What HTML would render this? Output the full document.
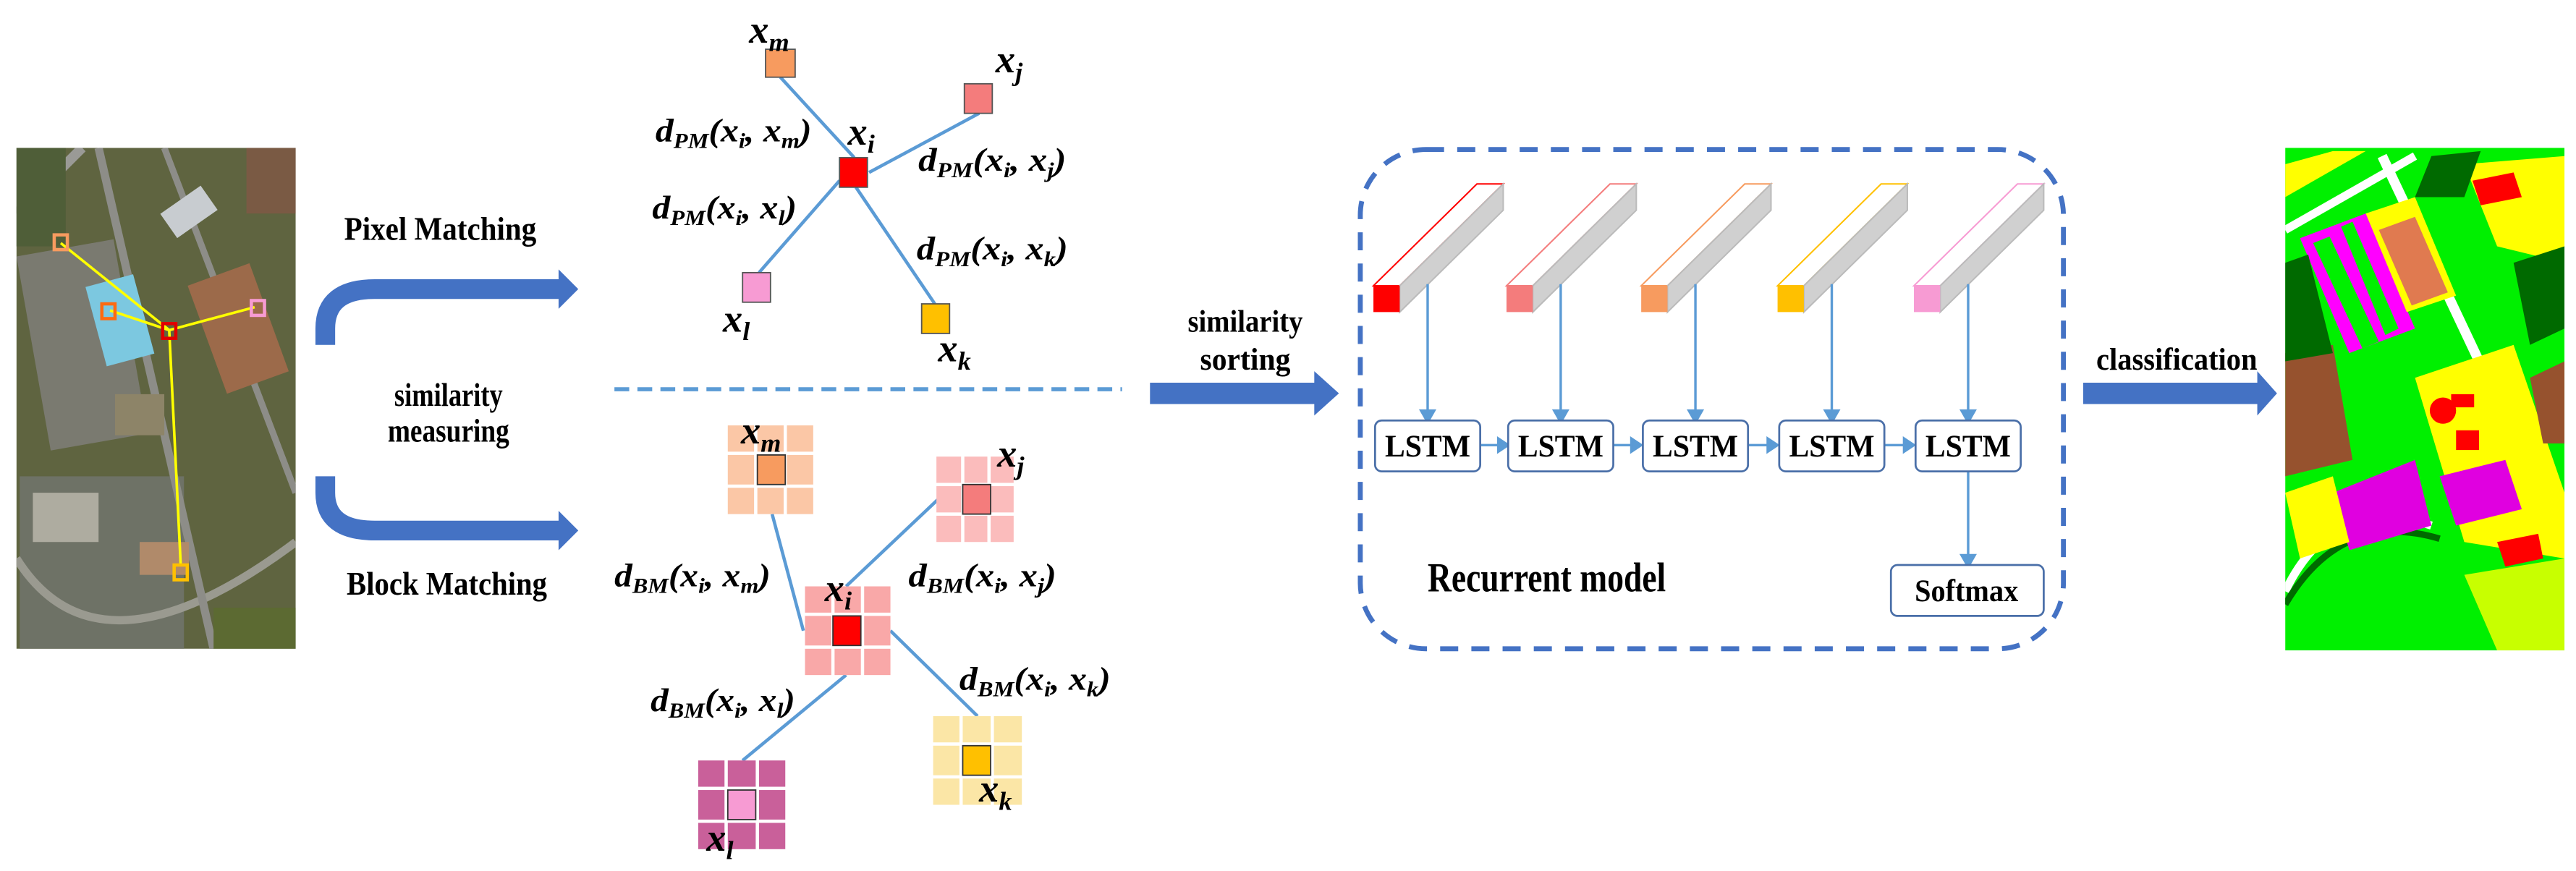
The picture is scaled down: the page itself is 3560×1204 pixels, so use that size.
<!DOCTYPE html>
<html><head><meta charset="utf-8"><style>
html,body{margin:0;padding:0;background:#fff;width:3560px;height:1204px;overflow:hidden}
svg{display:block}
.t{font-family:"Liberation Serif",serif;font-weight:bold;fill:#000}
.m{font-family:"Liberation Serif",serif;font-weight:bold;font-style:italic;fill:#000}
</style></head><body>
<svg width="3560" height="1204" viewBox="0 0 1568 530.3" preserveAspectRatio="none" xmlns="http://www.w3.org/2000/svg">
<defs>
<clipPath id="cs"><rect x="10" y="90" width="170" height="305"/></clipPath>
<clipPath id="cc"><rect x="1391" y="90" width="170" height="306"/></clipPath>
</defs>

<!-- satellite image -->
<g clip-path="url(#cs)">
<rect x="10" y="90" width="170" height="305" fill="#5f6440"/>
<rect x="20" y="150" width="60" height="120" fill="#7a7a70" transform="rotate(-10 50 210)"/>
<rect x="12" y="290" width="100" height="105" fill="#6e7266"/>
<path d="M10 340 Q60 420 180 330" stroke="#9a9a90" stroke-width="5" fill="none"/>
<path d="M60 90 L130 395" stroke="#8d8d88" stroke-width="5" fill="none"/>
<path d="M100 90 L180 300" stroke="#8d8d88" stroke-width="4" fill="none"/>
<path d="M10 130 L50 90" stroke="#9a9a96" stroke-width="6" fill="none"/>
<rect x="58" y="170" width="30" height="50" fill="#7cc8e0" transform="rotate(-15 73 195)"/>
<rect x="100" y="120" width="30" height="18" fill="#c8ccd0" transform="rotate(-35 115 129)"/>
<rect x="125" y="165" width="40" height="70" fill="#9c6a4a" transform="rotate(-20 145 200)"/>
<rect x="20" y="300" width="40" height="30" fill="#aeaca0"/>
<rect x="70" y="240" width="30" height="25" fill="#8d8468"/>
<rect x="85" y="330" width="30" height="20" fill="#b08a6a"/>
<rect x="130" y="370" width="50" height="25" fill="#5c6a32"/>
<rect x="10" y="90" width="30" height="60" fill="#4f5e38"/>
<rect x="150" y="90" width="30" height="40" fill="#7a5a44"/>
</g>
<g stroke="#ffff00" stroke-width="1.6" fill="none">
<line x1="103" y1="201" x2="37" y2="148"/><line x1="103" y1="201" x2="67" y2="189"/>
<line x1="103" y1="201" x2="155" y2="187"/><line x1="103" y1="201" x2="110" y2="344"/>
</g>
<rect x="33" y="143" width="8" height="9" fill="none" stroke="#f79b5f" stroke-width="2"/>
<rect x="62" y="185" width="8" height="9" fill="none" stroke="#ff6a10" stroke-width="2"/>
<rect x="99" y="197" width="8" height="9" fill="none" stroke="#e00000" stroke-width="2"/>
<rect x="153" y="183" width="8" height="9" fill="none" stroke="#f79bd3" stroke-width="2"/>
<rect x="106" y="344" width="8" height="9" fill="none" stroke="#ffc000" stroke-width="2"/>

<!-- curved arrows -->
<path d="M198 210 L198 200 Q198 176 228 176 L342 176" stroke="#4472c4" stroke-width="12" fill="none"/>
<polygon points="340,164 352,176 340,188" fill="#4472c4"/>
<path d="M198 290 L198 300 Q198 323 228 323 L342 323" stroke="#4472c4" stroke-width="12" fill="none"/>
<polygon points="340,311 352,323 340,335" fill="#4472c4"/>
<text class="t" x="268" y="146" font-size="20" text-anchor="middle" textLength="117" lengthAdjust="spacingAndGlyphs">Pixel Matching</text>
<text class="t" x="273" y="247" font-size="20" text-anchor="middle" textLength="66" lengthAdjust="spacingAndGlyphs">similarity</text>
<text class="t" x="273" y="269" font-size="20" text-anchor="middle" textLength="74" lengthAdjust="spacingAndGlyphs">measuring</text>
<text class="t" x="272" y="362" font-size="20" text-anchor="middle" textLength="122" lengthAdjust="spacingAndGlyphs">Block Matching</text>

<!-- pixel graph -->
<g stroke="#5b9bd5" stroke-width="2">
<line x1="475" y1="47" x2="520" y2="96"/><line x1="596" y1="69" x2="529" y2="105"/>
<line x1="511" y1="110" x2="462" y2="166"/><line x1="521" y1="114" x2="569" y2="185"/>
</g>
<rect x="466" y="30" width="18" height="17" fill="#f79b5f" stroke="#555" stroke-width="0.8"/>
<rect x="511" y="96" width="17" height="18" fill="#ff0000" stroke="#555" stroke-width="0.8"/>
<rect x="587" y="51" width="17" height="18" fill="#f47c7c" stroke="#555" stroke-width="0.8"/>
<rect x="452" y="166" width="17" height="18" fill="#f79bd3" stroke="#555" stroke-width="0.8"/>
<rect x="561" y="185" width="17" height="18" fill="#ffc000" stroke="#555" stroke-width="0.8"/>
<g class="m" font-size="24">
<text x="456" y="26">x<tspan font-size="16" dy="5">m</tspan></text>
<text x="606" y="44">x<tspan font-size="16" dy="5">j</tspan></text>
<text x="516" y="88">x<tspan font-size="16" dy="5">i</tspan></text>
<text x="440" y="202">x<tspan font-size="16" dy="5">l</tspan></text>
<text x="571" y="220">x<tspan font-size="16" dy="5">k</tspan></text>
</g>
<g class="m" font-size="20">
<text x="399" y="86" textLength="95" lengthAdjust="spacingAndGlyphs">d<tspan font-size="13" dy="4">PM</tspan><tspan dy="-4">(x</tspan><tspan font-size="13" dy="4">i</tspan><tspan dy="-4">, x</tspan><tspan font-size="13" dy="4">m</tspan><tspan dy="-4">)</tspan></text>
<text x="559" y="104" textLength="90" lengthAdjust="spacingAndGlyphs">d<tspan font-size="13" dy="4">PM</tspan><tspan dy="-4">(x</tspan><tspan font-size="13" dy="4">i</tspan><tspan dy="-4">, x</tspan><tspan font-size="13" dy="4">j</tspan><tspan dy="-4">)</tspan></text>
<text x="397" y="133" textLength="88" lengthAdjust="spacingAndGlyphs">d<tspan font-size="13" dy="4">PM</tspan><tspan dy="-4">(x</tspan><tspan font-size="13" dy="4">i</tspan><tspan dy="-4">, x</tspan><tspan font-size="13" dy="4">l</tspan><tspan dy="-4">)</tspan></text>
<text x="558" y="158" textLength="92" lengthAdjust="spacingAndGlyphs">d<tspan font-size="13" dy="4">PM</tspan><tspan dy="-4">(x</tspan><tspan font-size="13" dy="4">i</tspan><tspan dy="-4">, x</tspan><tspan font-size="13" dy="4">k</tspan><tspan dy="-4">)</tspan></text>
<text x="374" y="357" textLength="95" lengthAdjust="spacingAndGlyphs">d<tspan font-size="13" dy="4">BM</tspan><tspan dy="-4">(x</tspan><tspan font-size="13" dy="4">i</tspan><tspan dy="-4">, x</tspan><tspan font-size="13" dy="4">m</tspan><tspan dy="-4">)</tspan></text>
<text x="553" y="357" textLength="90" lengthAdjust="spacingAndGlyphs">d<tspan font-size="13" dy="4">BM</tspan><tspan dy="-4">(x</tspan><tspan font-size="13" dy="4">i</tspan><tspan dy="-4">, x</tspan><tspan font-size="13" dy="4">j</tspan><tspan dy="-4">)</tspan></text>
<text x="396" y="433" textLength="88" lengthAdjust="spacingAndGlyphs">d<tspan font-size="13" dy="4">BM</tspan><tspan dy="-4">(x</tspan><tspan font-size="13" dy="4">i</tspan><tspan dy="-4">, x</tspan><tspan font-size="13" dy="4">l</tspan><tspan dy="-4">)</tspan></text>
<text x="584" y="420" textLength="92" lengthAdjust="spacingAndGlyphs">d<tspan font-size="13" dy="4">BM</tspan><tspan dy="-4">(x</tspan><tspan font-size="13" dy="4">i</tspan><tspan dy="-4">, x</tspan><tspan font-size="13" dy="4">k</tspan><tspan dy="-4">)</tspan></text>
</g>

<line x1="374" y1="237" x2="683" y2="237" stroke="#5b9bd5" stroke-width="2.5" stroke-dasharray="9 5"/>

<!-- block graph -->
<g stroke="#5b9bd5" stroke-width="2">
<line x1="470" y1="313" x2="489" y2="384"/><line x1="571" y1="304" x2="515" y2="357"/>
<line x1="542" y1="384" x2="595" y2="436"/><line x1="515" y1="411" x2="452" y2="463"/>
</g>
<g fill="#fbc7a6"><rect x="443" y="259" width="16" height="16"/><rect x="461" y="259" width="16" height="16"/><rect x="479" y="259" width="16" height="16"/><rect x="443" y="277" width="16" height="18"/><rect x="479" y="277" width="16" height="18"/><rect x="443" y="297" width="16" height="16"/><rect x="461" y="297" width="16" height="16"/><rect x="479" y="297" width="16" height="16"/></g>
<rect x="461" y="277" width="17" height="18" fill="#f79b5f" stroke="#333" stroke-width="0.8"/>
<g fill="#fbbcbc"><rect x="570" y="278" width="15" height="16"/><rect x="587" y="278" width="14" height="16"/><rect x="603" y="278" width="14" height="16"/><rect x="570" y="296" width="15" height="16"/><rect x="603" y="296" width="14" height="16"/><rect x="570" y="314" width="15" height="16"/><rect x="587" y="314" width="14" height="16"/><rect x="603" y="314" width="14" height="16"/></g>
<rect x="586" y="295" width="17" height="18" fill="#f47c7c" stroke="#333" stroke-width="0.8"/>
<g fill="#f9a8a8"><rect x="490" y="357" width="16" height="16"/><rect x="508" y="357" width="16" height="16"/><rect x="526" y="357" width="16" height="16"/><rect x="490" y="375" width="16" height="18"/><rect x="526" y="375" width="16" height="18"/><rect x="490" y="395" width="16" height="16"/><rect x="508" y="395" width="16" height="16"/><rect x="526" y="395" width="16" height="16"/></g>
<rect x="507" y="375" width="17" height="18" fill="#ff0000" stroke="#333" stroke-width="0.8"/>
<g fill="#fbe6a6"><rect x="568" y="436" width="16" height="16"/><rect x="586" y="436" width="17" height="16"/><rect x="605" y="436" width="17" height="16"/><rect x="568" y="454" width="16" height="18"/><rect x="605" y="454" width="17" height="18"/><rect x="568" y="474" width="16" height="16"/><rect x="586" y="474" width="17" height="16"/><rect x="605" y="474" width="17" height="16"/></g>
<rect x="586" y="454" width="17" height="18" fill="#ffc000" stroke="#333" stroke-width="0.8"/>
<g fill="#c9609a"><rect x="425" y="463" width="16" height="16"/><rect x="443" y="463" width="17" height="16"/><rect x="462" y="463" width="16" height="16"/><rect x="425" y="481" width="16" height="18"/><rect x="462" y="481" width="16" height="18"/><rect x="425" y="501" width="16" height="16"/><rect x="443" y="501" width="17" height="16"/><rect x="462" y="501" width="16" height="16"/></g>
<rect x="443" y="481" width="17" height="18" fill="#f79bd3" stroke="#333" stroke-width="0.8"/>
<g class="m" font-size="24">
<text x="451" y="270">x<tspan font-size="16" dy="5">m</tspan></text>
<text x="607" y="284">x<tspan font-size="16" dy="5">j</tspan></text>
<text x="502" y="366">x<tspan font-size="16" dy="5">i</tspan></text>
<text x="596" y="488">x<tspan font-size="16" dy="5">k</tspan></text>
<text x="430" y="518">x<tspan font-size="16" dy="5">l</tspan></text>
</g>

<!-- similarity sorting -->
<text class="t" x="758" y="202" font-size="19" text-anchor="middle" textLength="70" lengthAdjust="spacingAndGlyphs">similarity</text>
<text class="t" x="758" y="225" font-size="19" text-anchor="middle" textLength="55" lengthAdjust="spacingAndGlyphs">sorting</text>
<rect x="700" y="233" width="102" height="13" fill="#4472c4"/>
<polygon points="800,226 815,239.5 800,253" fill="#4472c4"/>

<!-- recurrent model box -->
<rect x="828" y="91" width="428" height="304" rx="40" fill="none" stroke="#4472c4" stroke-width="3" stroke-dasharray="11 8"/>
<g stroke-width="0.9">
<g transform="translate(836,0)"><polygon points="0,174 63,112 79,112 16,174" fill="#fff" stroke="#ff0000"/><polygon points="16,174 79,112 79,128 16,190" fill="#d0d0d0" stroke="#bbb"/><rect x="0" y="174" width="16" height="16" fill="#ff0000"/></g>
<g transform="translate(917,0)"><polygon points="0,174 63,112 79,112 16,174" fill="#fff" stroke="#f47c7c"/><polygon points="16,174 79,112 79,128 16,190" fill="#d0d0d0" stroke="#bbb"/><rect x="0" y="174" width="16" height="16" fill="#f47c7c"/></g>
<g transform="translate(999,0)"><polygon points="0,174 63,112 79,112 16,174" fill="#fff" stroke="#f79b5f"/><polygon points="16,174 79,112 79,128 16,190" fill="#d0d0d0" stroke="#bbb"/><rect x="0" y="174" width="16" height="16" fill="#f79b5f"/></g>
<g transform="translate(1082,0)"><polygon points="0,174 63,112 79,112 16,174" fill="#fff" stroke="#ffc000"/><polygon points="16,174 79,112 79,128 16,190" fill="#d0d0d0" stroke="#bbb"/><rect x="0" y="174" width="16" height="16" fill="#ffc000"/></g>
<g transform="translate(1165,0)"><polygon points="0,174 63,112 79,112 16,174" fill="#fff" stroke="#f79bd3"/><polygon points="16,174 79,112 79,128 16,190" fill="#d0d0d0" stroke="#bbb"/><rect x="0" y="174" width="16" height="16" fill="#f79bd3"/></g>
</g>
<g stroke="#5b9bd5" stroke-width="1.5" fill="#5b9bd5">
<line x1="869" y1="173" x2="869" y2="252"/><polygon points="865,250 873,250 869,257"/>
<line x1="950" y1="173" x2="950" y2="252"/><polygon points="946,250 954,250 950,257"/>
<line x1="1032" y1="173" x2="1032" y2="252"/><polygon points="1028,250 1036,250 1032,257"/>
<line x1="1115" y1="173" x2="1115" y2="252"/><polygon points="1111,250 1119,250 1115,257"/>
<line x1="1198" y1="173" x2="1198" y2="252"/><polygon points="1194,250 1202,250 1198,257"/>
<line x1="901" y1="271" x2="913" y2="271"/><polygon points="912,267 918,271 912,275"/>
<line x1="982" y1="271" x2="994" y2="271"/><polygon points="993,267 999,271 993,275"/>
<line x1="1064" y1="271" x2="1077" y2="271"/><polygon points="1076,267 1082,271 1076,275"/>
<line x1="1147" y1="271" x2="1160" y2="271"/><polygon points="1159,267 1165,271 1159,275"/>
<line x1="1198" y1="287" x2="1198" y2="339"/><polygon points="1194,338 1202,338 1198,345"/>
</g>
<g fill="#fff" stroke="#4a6fa8" stroke-width="1.2">
<rect x="837" y="256" width="64" height="31" rx="4"/>
<rect x="918" y="256" width="64" height="31" rx="4"/>
<rect x="1000" y="256" width="64" height="31" rx="4"/>
<rect x="1083" y="256" width="64" height="31" rx="4"/>
<rect x="1166" y="256" width="64" height="31" rx="4"/>
<rect x="1151" y="344" width="93" height="31" rx="4"/>
</g>
<g class="t" font-size="19" text-anchor="middle">
<text x="869" y="278" textLength="52" lengthAdjust="spacingAndGlyphs">LSTM</text>
<text x="950" y="278" textLength="52" lengthAdjust="spacingAndGlyphs">LSTM</text>
<text x="1032" y="278" textLength="52" lengthAdjust="spacingAndGlyphs">LSTM</text>
<text x="1115" y="278" textLength="52" lengthAdjust="spacingAndGlyphs">LSTM</text>
<text x="1198" y="278" textLength="52" lengthAdjust="spacingAndGlyphs">LSTM</text>
<text x="1197" y="366" textLength="63" lengthAdjust="spacingAndGlyphs">Softmax</text>
</g>
<text class="t" x="869" y="360" font-size="25" textLength="145" lengthAdjust="spacingAndGlyphs">Recurrent model</text>

<!-- classification -->
<text class="t" x="1276" y="225" font-size="19" textLength="98" lengthAdjust="spacingAndGlyphs">classification</text>
<rect x="1268" y="233" width="108" height="13" fill="#4472c4"/>
<polygon points="1374,226 1386,239.5 1374,253" fill="#4472c4"/>

<g clip-path="url(#cc)">
<rect x="1391" y="90" width="170" height="306" fill="#00f000"/>
<path d="M1391 140 L1470 95" stroke="#fff" stroke-width="5"/>
<path d="M1450 95 L1561 330" stroke="#fff" stroke-width="6"/>
<path d="M1391 360 Q1420 300 1480 320" stroke="#fff" stroke-width="5" fill="none"/>
<path d="M1391 368 Q1425 310 1485 328" stroke="#006a00" stroke-width="4" fill="none"/>
<polygon points="1470,230 1530,210 1561,300 1561,340 1500,330" fill="#ffff00"/>
<polygon points="1500,100 1561,95 1561,160 1520,150" fill="#ffff00"/>
<polygon points="1400,145 1440,130 1470,200 1430,215" fill="#ff00ff"/>
<polygon points="1408,148 1418,144 1448,208 1438,212" fill="#00f000"/>
<polygon points="1425,138 1432,135 1460,200 1452,204" fill="#00f000"/>
<polygon points="1440,130 1470,120 1495,180 1465,190" fill="#ffff00"/>
<polygon points="1448,140 1470,132 1490,178 1468,186" fill="#e07a50"/>
<polygon points="1391,215 1420,210 1432,280 1391,290" fill="#96522e"/>
<polygon points="1485,290 1525,280 1535,310 1495,320" fill="#e000e0"/>
<circle cx="1487" cy="250" r="8" fill="#ff0000"/>
<rect x="1492" y="240" width="14" height="8" fill="#ff0000"/>
<rect x="1495" y="262" width="14" height="12" fill="#ff0000"/>
<polygon points="1420,300 1470,280 1480,320 1430,335" fill="#e000e0"/>
<polygon points="1391,160 1405,155 1420,215 1391,220" fill="#006a00"/>
<polygon points="1480,95 1510,92 1500,120 1470,120" fill="#006a00"/>
<polygon points="1530,160 1561,150 1561,200 1540,210" fill="#006a00"/>
<polygon points="1505,110 1530,105 1535,120 1510,125" fill="#ff0000"/>
<polygon points="1520,330 1545,325 1548,340 1525,345" fill="#ff0000"/>
<polygon points="1391,100 1420,92 1440,92 1391,120" fill="#ffff00"/>
<polygon points="1540,230 1561,220 1561,270 1548,270" fill="#96522e"/>
<polygon points="1391,300 1420,290 1430,330 1400,340" fill="#ffff00"/>
<polygon points="1500,350 1561,340 1561,396 1520,396" fill="#c8ff00"/>
</g>
</svg>
</body></html>
